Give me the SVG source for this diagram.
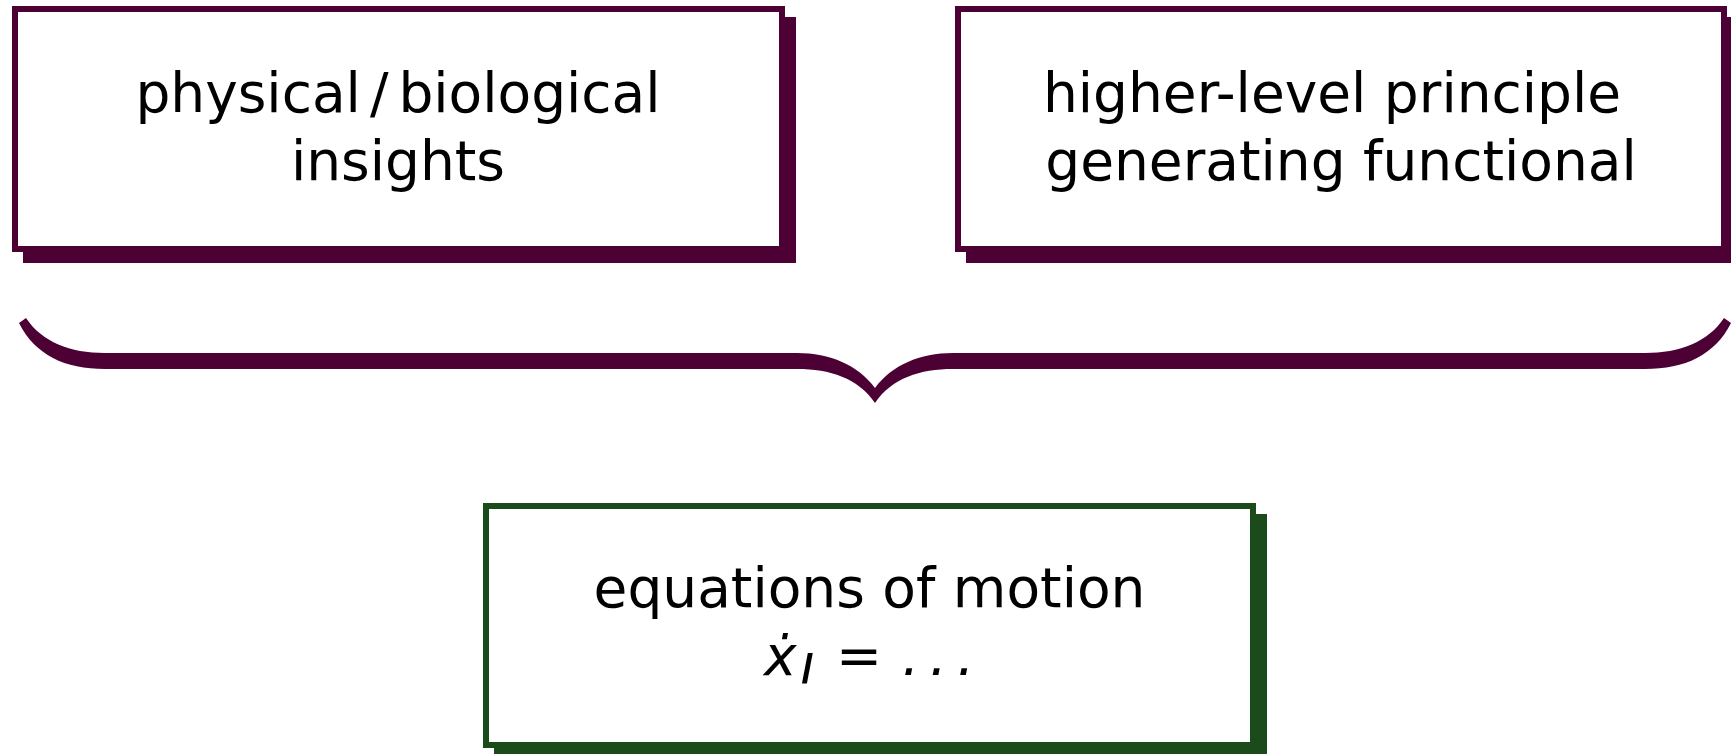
<svg xmlns="http://www.w3.org/2000/svg" width="1731" height="754" viewBox="0 0 1731 754">
<style>
.frameP{fill:#ffffff;stroke:#4d0033;stroke-width:6}
.shadowP{fill:#4d0033}
.frameG{fill:#ffffff;stroke:#1b4b1b;stroke-width:6}
.shadowG{fill:#1b4b1b}
.lbl{font-family:"DejaVu Sans",sans-serif;font-size:55px;fill:#000000;text-anchor:middle}
.math{font-family:"DejaVu Sans",sans-serif;font-size:55px;fill:#000000;font-style:italic}
</style>
<rect width="1731" height="754" fill="#ffffff"/>
<g id="node-insights">
<rect class="shadowP" x="23" y="17" width="773" height="246"/>
<rect class="frameP" x="15" y="9" width="767" height="240"/>
<text class="lbl" x="398" y="112">physical<tspan dx="9">/</tspan><tspan dx="10">biological</tspan></text>
<text class="lbl" x="398" y="180">insights</text>
</g>
<g id="node-principle">
<rect class="shadowP" x="966" y="17" width="773" height="246"/>
<rect class="frameP" x="958" y="9" width="766" height="240"/>
<text class="lbl" x="1332" y="112">higher-level principle</text>
<text class="lbl" x="1341" y="180">generating functional</text>
</g>
<g id="connectors">
<path fill="#4d0033" d="M 26 318 C 42 342, 70 353, 105 353 L 797 353 C 830 353, 858 365, 875 388 C 892 365, 920 353, 953 353 L 1645 353 C 1680 353, 1708 342, 1724 318 L 1731 323 C 1715 355, 1685 369, 1645 369 L 953 369 C 920 369, 892 378, 875 403 C 858 378, 830 369, 797 369 L 105 369 C 65 369, 35 355, 19 323 Z"/>
</g>
<g id="node-equations">
<rect class="shadowG" x="494" y="514" width="773" height="246"/>
<rect class="frameG" x="486" y="506" width="767" height="239"/>
<text class="lbl" x="869.5" y="607">equations of motion</text>
<text class="math" x="764" y="675">ẋ</text>
<text class="math" x="800" y="683" font-size="36">ı</text>
<text x="836" y="675" font-family="DejaVu Sans, sans-serif" font-size="55">=</text>
<text class="math" x="902" y="675" letter-spacing="10">...</text>
</g>
</svg>
